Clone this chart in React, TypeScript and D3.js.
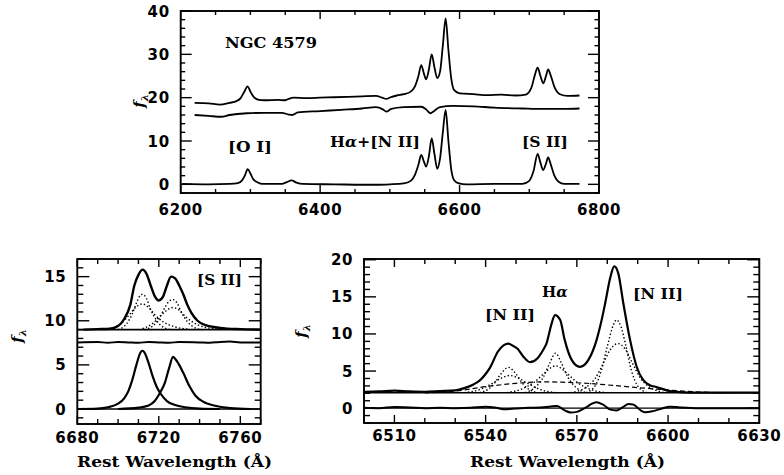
import React from "react";
import * as d3 from "d3";

// ---------------- TOP PANEL DATA (NGC 4579 full spectrum) ----------------
const topUpperWl = [6220, 6240, 6256, 6270, 6280, 6286, 6291, 6296, 6300, 6305, 6312, 6320, 6340, 6350, 6356, 6362, 6380, 6400, 6420, 6440, 6460, 6480, 6489, 6495, 6501, 6510, 6520, 6530, 6536, 6541, 6545, 6549, 6552, 6556, 6560, 6564, 6568, 6572, 6576, 6580, 6584, 6588, 6592, 6600, 6620, 6640, 6660, 6680, 6695, 6703, 6708, 6712, 6716, 6720, 6724, 6727, 6731, 6736, 6744, 6755, 6772];
const topUpperFlux = [18.8, 18.7, 18.4, 18.8, 19.2, 19.9, 21.3, 22.6, 21.4, 20.1, 19.5, 19.4, 19.5, 19.4, 19.8, 20.0, 19.9, 20.0, 20.1, 20.2, 20.3, 20.4, 20.0, 19.7, 20.1, 20.5, 20.8, 21.4, 22.6, 25.0, 27.5, 25.5, 24.2, 26.5, 30.0, 27.0, 24.5, 26.0, 32.0, 38.3, 31.0, 24.5, 21.8, 21.0, 20.8, 20.6, 20.7, 20.5, 20.7, 22.3, 25.2, 26.9, 25.0, 23.3, 25.0, 26.5, 25.0, 22.5, 20.8, 20.4, 20.5];

const topMidWl = [6220, 6240, 6258, 6270, 6295, 6320, 6345, 6355, 6360, 6368, 6400, 6430, 6460, 6480, 6490, 6495, 6502, 6520, 6545, 6552, 6558, 6564, 6572, 6590, 6620, 6650, 6690, 6720, 6750, 6772];
const topMidFlux = [16.0, 15.8, 15.6, 16.0, 16.4, 16.5, 16.5, 16.1, 16.0, 16.6, 16.9, 17.2, 17.5, 17.8, 17.3, 16.8, 17.4, 17.8, 17.9, 17.3, 16.4, 17.0, 17.8, 18.1, 18.0, 17.7, 17.5, 17.4, 17.4, 17.5];

const topLowWl = [6202, 6240, 6270, 6282, 6288, 6292, 6296, 6300, 6304, 6310, 6318, 6345, 6352, 6359, 6366, 6375, 6420, 6480, 6500, 6520, 6530, 6536, 6541, 6545, 6549, 6552, 6556, 6560, 6564, 6568, 6572, 6576, 6580, 6584, 6588, 6592, 6598, 6610, 6650, 6690, 6700, 6706, 6712, 6716, 6720, 6724, 6727, 6731, 6736, 6742, 6750, 6772];
const topLowFlux = [0.1, 0.0, 0.1, 0.3, 0.9, 2.0, 3.5, 2.5, 1.2, 0.5, 0.1, 0.1, 0.5, 0.9, 0.4, 0.1, 0.0, -0.1, 0.0, 0.2, 0.8, 2.2, 4.5, 6.8, 5.2, 4.1, 6.5, 10.6, 7.0, 3.6, 6.0, 12.0, 17.2, 10.0, 3.5, 1.0, 0.3, 0.0, 0.1, 0.1, 0.8, 3.0, 7.0, 5.0, 3.3, 4.8, 6.2, 4.5, 2.0, 0.6, 0.1, 0.1];

const topXMajor = [6200, 6400, 6600, 6800];
const topYMajor = [0, 10, 20, 30, 40];

// ---------------- BOTTOM-LEFT PANEL DATA ([S II] fit) ----------------
const siiTotalWl = [6683, 6690, 6696, 6700, 6703, 6706, 6708, 6710, 6712, 6714, 6716, 6718, 6720, 6722, 6724, 6726, 6728, 6730, 6732, 6734, 6736, 6739, 6743, 6750, 6760, 6770];
const siiTotalFlux = [9.0, 9.05, 9.1, 9.4, 10.2, 11.8, 14.0, 15.2, 15.8, 15.3, 14.0, 12.8, 12.3, 12.7, 14.0, 15.0, 14.8, 14.0, 13.0, 11.8, 10.9, 10.0, 9.5, 9.2, 9.05, 9.0];

const siiA1Wl = [6700, 6704, 6707, 6709, 6711, 6712, 6714, 6716, 6719, 6722, 6726];
const siiA1Flux = [9.0, 9.6, 10.8, 12.0, 12.9, 13.0, 12.5, 11.3, 10.0, 9.3, 9.0];
const siiA2Wl = [6696, 6702, 6706, 6709, 6712, 6715, 6718, 6722, 6728, 6735];
const siiA2Flux = [9.1, 9.8, 10.8, 11.6, 11.9, 11.5, 10.7, 9.9, 9.3, 9.05];
const siiB1Wl = [6713, 6717, 6720, 6723, 6725, 6727, 6729, 6731, 6734, 6737, 6741];
const siiB1Flux = [9.0, 9.4, 10.2, 11.5, 12.2, 12.4, 12.0, 11.0, 9.9, 9.3, 9.0];
const siiB2Wl = [6712, 6717, 6721, 6724, 6727, 6730, 6733, 6737, 6742, 6750];
const siiB2Flux = [9.1, 9.7, 10.6, 11.2, 11.5, 11.2, 10.5, 9.8, 9.3, 9.05];

const siiResidWl = [6680, 6690, 6695, 6700, 6705, 6710, 6715, 6720, 6725, 6730, 6740, 6745, 6750, 6755, 6760, 6770];
const siiResidFlux = [7.55, 7.6, 7.5, 7.6, 7.55, 7.5, 7.6, 7.55, 7.5, 7.6, 7.55, 7.5, 7.6, 7.65, 7.55, 7.55];

const siiLine1Wl = [6680, 6690, 6695, 6700, 6703, 6705, 6707, 6709, 6711, 6712, 6713, 6715, 6717, 6719, 6721, 6724, 6728, 6733, 6740, 6750];
const siiLine1Flux = [0.0, 0.05, 0.2, 0.6, 1.2, 2.0, 3.3, 5.0, 6.4, 6.6, 6.4, 5.2, 3.7, 2.5, 1.7, 0.9, 0.45, 0.2, 0.05, 0.0];
const siiLine2Wl = [6700, 6710, 6715, 6718, 6720, 6721, 6723, 6725, 6727, 6728, 6730, 6732, 6735, 6738, 6742, 6747, 6755, 6765];
const siiLine2Flux = [0.0, 0.15, 0.4, 0.9, 1.6, 2.0, 3.0, 4.6, 5.9, 5.7, 5.0, 4.1, 2.6, 1.5, 0.8, 0.4, 0.1, 0.0];

const blXMajor = [6680, 6720, 6760];
const blYMajor = [0, 5, 10, 15];

// ---------------- BOTTOM-RIGHT PANEL DATA (Halpha + [N II] fit) ----------------
const haTotalWl = [6500, 6505, 6510, 6515, 6520, 6525, 6530, 6533, 6536, 6538, 6540, 6541.5, 6544, 6546, 6547.5, 6549, 6550.5, 6552.5, 6554.6, 6557, 6559, 6560, 6561.7, 6562.8, 6564.5, 6566, 6568.3, 6571, 6573.8, 6576.5, 6578, 6579.3, 6581, 6582.3, 6583.6, 6585.3, 6587.5, 6589.7, 6591.8, 6594, 6596.2, 6600.6, 6607, 6615, 6630];
const haTotalFlux = [2.2, 2.25, 2.35, 2.25, 2.2, 2.3, 2.4, 2.7, 3.2, 3.7, 4.6, 5.5, 7.6, 8.5, 8.7, 8.4, 8.0, 6.9, 6.2, 6.7, 7.9, 8.7, 11.4, 12.55, 11.9, 9.2, 6.5, 5.55, 6.5, 9.2, 11.6, 14.1, 17.6, 19.1, 18.2, 14.1, 9.2, 5.55, 3.8, 3.1, 2.85, 2.3, 2.1, 2.1, 2.1];

const haBroadWl = [6520, 6530, 6540, 6550, 6560, 6565, 6575, 6585, 6595, 6605, 6615, 6620];
const haBroadFlux = [2.05, 2.3, 2.9, 3.35, 3.55, 3.5, 3.3, 2.95, 2.6, 2.3, 2.1, 2.05];

const n1NarrowWl = [6538, 6541, 6543, 6545, 6547.5, 6550, 6552, 6554, 6557];
const n1NarrowFlux = [2.1, 2.6, 3.4, 4.6, 5.5, 4.6, 3.4, 2.6, 2.1];
const n1BroadWl = [6533, 6538, 6542, 6545, 6548, 6551, 6554, 6558, 6563];
const n1BroadFlux = [2.1, 2.5, 3.3, 4.0, 4.4, 4.0, 3.3, 2.5, 2.1];
const hNarrowWl = [6553, 6556, 6559, 6561, 6563, 6565, 6567, 6570, 6573];
const hNarrowFlux = [2.1, 2.7, 4.2, 6.0, 7.4, 6.0, 4.2, 2.7, 2.1];
const hBroadWl = [6547, 6552, 6556, 6559, 6563, 6567, 6570, 6574, 6579];
const hBroadFlux = [2.1, 2.6, 3.5, 4.6, 5.7, 4.6, 3.5, 2.6, 2.1];
const n2NarrowWl = [6573, 6576, 6578, 6580, 6582, 6583, 6584.5, 6586, 6588, 6590, 6593];
const n2NarrowFlux = [2.1, 3.0, 5.0, 8.3, 11.2, 11.9, 11.0, 8.6, 5.0, 3.0, 2.1];
const n2BroadWl = [6568, 6573, 6576, 6579, 6581, 6583.5, 6586, 6588, 6591, 6594, 6599];
const n2BroadFlux = [2.1, 2.8, 4.0, 6.3, 7.9, 8.7, 7.9, 6.3, 4.0, 2.8, 2.1];

const haResidWl = [6500, 6505, 6510, 6515, 6520, 6525, 6530, 6535, 6540, 6543, 6546, 6550, 6554, 6558, 6561, 6563.5, 6566, 6568, 6570, 6573, 6575, 6576.5, 6578.5, 6581, 6583, 6585, 6587, 6588.5, 6591, 6592.5, 6595, 6598, 6600.5, 6604, 6610, 6620, 6630];
const haResidFlux = [0.05, 0.0, 0.15, 0.1, 0.0, 0.05, 0.0, 0.05, 0.2, 0.1, -0.15, -0.05, 0.05, 0.1, 0.2, 0.3, -0.3, -0.6, -0.5, 0.1, 0.6, 0.8, 0.5, -0.2, -0.3, 0.1, 0.55, 0.5, -0.3, -0.55, -0.4, -0.05, 0.2, 0.1, 0.0, 0.0, 0.0];

const brXMajor = [6510, 6540, 6570, 6600, 6630];
const brYMajor = [0, 5, 10, 15, 20];

// --------------------------------------------------------------------------
type Pt = [number, number];
const zip = (a: number[], b: number[]): Pt[] => a.map((v, i) => [v, b[i]]);

const TICK_FONT = "'DejaVu Sans', sans-serif";
const LABEL_FONT = "'DejaVu Serif', serif";

interface PanelCfg {
  id: string;
  px: [number, number];
  py: [number, number]; // [bottom, top]
  xd: [number, number];
  yd: [number, number];
  xMajor: number[];
  xMinorStep: number;
  yMajor: number[];
  yMinorStep: number;
  majLen: number;
  minLen: number;
  xMajLen?: number;
  xMinLen?: number;
  xLabelDy: number;
}

function Frame({ cfg, x, y }: { cfg: PanelCfg; x: d3.ScaleLinear<number, number>; y: d3.ScaleLinear<number, number> }) {
  const [xl, xr] = cfg.px;
  const [yb, yt] = cfg.py;
  const xMinor = d3.range(Math.ceil(cfg.xd[0] / cfg.xMinorStep) * cfg.xMinorStep, cfg.xd[1] + 1e-6, cfg.xMinorStep).filter((v) => !cfg.xMajor.some((m) => Math.abs(m - v) < 1e-6));
  const yMinor = d3.range(Math.ceil(cfg.yd[0] / cfg.yMinorStep) * cfg.yMinorStep, cfg.yd[1] + 1e-6, cfg.yMinorStep).filter((v) => !cfg.yMajor.some((m) => Math.abs(m - v) < 1e-6));
  const xMaj = cfg.xMajLen ?? cfg.majLen;
  const xMin = cfg.xMinLen ?? cfg.minLen;
  const ticks: JSX.Element[] = [];
  const addX = (v: number, len: number, k: string) => {
    const xx = x(v);
    ticks.push(<line key={"xb" + k} x1={xx} x2={xx} y1={yb} y2={yb - len} />);
    ticks.push(<line key={"xt" + k} x1={xx} x2={xx} y1={yt} y2={yt + len} />);
  };
  const addY = (v: number, len: number, k: string) => {
    const yy = y(v);
    ticks.push(<line key={"yl" + k} x1={xl} x2={xl + len} y1={yy} y2={yy} />);
    ticks.push(<line key={"yr" + k} x1={xr} x2={xr - len} y1={yy} y2={yy} />);
  };
  cfg.xMajor.forEach((v, i) => addX(v, xMaj, "M" + i));
  xMinor.forEach((v, i) => addX(v, xMin, "m" + i));
  cfg.yMajor.forEach((v, i) => addY(v, cfg.majLen, "M" + i));
  yMinor.forEach((v, i) => addY(v, cfg.minLen, "m" + i));
  return (
    <g>
      <g stroke="#000" strokeWidth={1.4}>{ticks}</g>
      <rect x={xl} y={yt} width={xr - xl} height={yb - yt} fill="none" stroke="#000" strokeWidth={1.9} />
      <g fontFamily={TICK_FONT} fontWeight="bold" fontSize={15} letterSpacing={0.6}>
        {cfg.xMajor.map((v) => (
          <text key={"xl" + v} x={x(v)} y={yb + cfg.xLabelDy} textAnchor="middle">
            {v}
          </text>
        ))}
        {cfg.yMajor.map((v) => (
          <text key={"yl" + v} x={xl - 11} y={y(v) + 5.5} textAnchor="end">
            {v}
          </text>
        ))}
      </g>
    </g>
  );
}

function FLambda({ x, y }: { x: number; y: number }) {
  return (
    <text transform={`translate(${x},${y}) rotate(-90)`} fontFamily={LABEL_FONT} fontWeight="bold" fontStyle="italic" fontSize={15} textAnchor="middle">
      f
      <tspan fontSize={10} dy={4}>λ</tspan>
    </text>
  );
}

export default function App() {
  // Top panel
  const topCfg: PanelCfg = {
    id: "top",
    px: [180.7, 599],
    py: [193, 11],
    xd: [6200, 6800],
    yd: [-2, 40],
    xMajor: topXMajor,
    xMinorStep: 50,
    yMajor: topYMajor,
    yMinorStep: 2,
    majLen: 11,
    minLen: 4.5,
    xMajLen: 8,
    xMinLen: 4,
    xLabelDy: 22,
  };
  const tx = d3.scaleLinear().domain(topCfg.xd).range(topCfg.px);
  const ty = d3.scaleLinear().domain(topCfg.yd).range(topCfg.py);
  const tLine = d3.line<Pt>().x((d) => tx(d[0])).y((d) => ty(d[1])).curve(d3.curveMonotoneX);

  // Bottom-left panel
  const blCfg: PanelCfg = {
    id: "bl",
    px: [77.3, 260.7],
    py: [424, 259],
    xd: [6680, 6770],
    yd: [-1.7, 17],
    xMajor: blXMajor,
    xMinorStep: 10,
    yMajor: blYMajor,
    yMinorStep: 1,
    majLen: 12,
    minLen: 6,
    xMajLen: 8,
    xMinLen: 5,
    xLabelDy: 19,
  };
  const bx = d3.scaleLinear().domain(blCfg.xd).range(blCfg.px);
  const by = d3.scaleLinear().domain(blCfg.yd).range(blCfg.py);
  const bLine = d3.line<Pt>().x((d) => bx(d[0])).y((d) => by(d[1])).curve(d3.curveMonotoneX);

  // Bottom-right panel
  const brCfg: PanelCfg = {
    id: "br",
    px: [364, 759.3],
    py: [423, 259],
    xd: [6500, 6630],
    yd: [-2, 20.1],
    xMajor: brXMajor,
    xMinorStep: 10,
    yMajor: brYMajor,
    yMinorStep: 1,
    majLen: 12,
    minLen: 6,
    xMajLen: 8,
    xMinLen: 5,
    xLabelDy: 18,
  };
  const rx = d3.scaleLinear().domain(brCfg.xd).range(brCfg.px);
  const ry = d3.scaleLinear().domain(brCfg.yd).range(brCfg.py);
  const rLine = d3.line<Pt>().x((d) => rx(d[0])).y((d) => ry(d[1])).curve(d3.curveMonotoneX);

  const dotted = { fill: "none", stroke: "#000", strokeWidth: 1.4, strokeDasharray: "1.4,2.2" };

  return (
    <svg width={784} height={475} style={{ position: "absolute", left: 0, top: 0, background: "#fff" }}>
      <defs>
        <clipPath id="clipTop">
          <rect x={topCfg.px[0]} y={topCfg.py[1]} width={topCfg.px[1] - topCfg.px[0]} height={topCfg.py[0] - topCfg.py[1]} />
        </clipPath>
        <clipPath id="clipBL">
          <rect x={blCfg.px[0]} y={blCfg.py[1]} width={blCfg.px[1] - blCfg.px[0]} height={blCfg.py[0] - blCfg.py[1]} />
        </clipPath>
        <clipPath id="clipBR">
          <rect x={brCfg.px[0]} y={brCfg.py[1]} width={brCfg.px[1] - brCfg.px[0]} height={brCfg.py[0] - brCfg.py[1]} />
        </clipPath>
      </defs>

      {/* ---------- TOP ---------- */}
      <g clipPath="url(#clipTop)" fill="none" stroke="#000" strokeWidth={1.8} strokeLinejoin="round">
        <path d={tLine(zip(topUpperWl, topUpperFlux)) || ""} />
        <path d={tLine(zip(topMidWl, topMidFlux)) || ""} />
        <path d={tLine(zip(topLowWl, topLowFlux)) || ""} />
      </g>
      <Frame cfg={topCfg} x={tx} y={ty} />
      <g fontFamily={LABEL_FONT} fontWeight="bold" fontSize={15}>
        <text x={225} y={48} textLength={92} lengthAdjust="spacingAndGlyphs">NGC 4579</text>
        <text x={228} y={152} textLength={44} lengthAdjust="spacingAndGlyphs">[O I]</text>
        <text x={330} y={147} textLength={90} lengthAdjust="spacingAndGlyphs">
          H<tspan fontStyle="italic">α</tspan>+[N II]
        </text>
        <text x={522} y={147} textLength={46} lengthAdjust="spacingAndGlyphs">[S II]</text>
      </g>
      <FLambda x={144} y={101} />

      {/* ---------- BOTTOM LEFT ---------- */}
      <g clipPath="url(#clipBL)" fill="none" stroke="#000" strokeLinejoin="round">
        <line x1={bx(6680)} x2={bx(6770)} y1={by(9.0)} y2={by(9.0)} strokeWidth={1.6} />
        <line x1={bx(6680)} x2={bx(6770)} y1={by(0)} y2={by(0)} strokeWidth={1.6} />
        <path d={bLine(zip(siiResidWl, siiResidFlux)) || ""} strokeWidth={2} />
        <path d={bLine(zip(siiA1Wl, siiA1Flux)) || ""} {...dotted} />
        <path d={bLine(zip(siiA2Wl, siiA2Flux)) || ""} {...dotted} />
        <path d={bLine(zip(siiB1Wl, siiB1Flux)) || ""} {...dotted} />
        <path d={bLine(zip(siiB2Wl, siiB2Flux)) || ""} {...dotted} />
        <path d={bLine(zip(siiTotalWl, siiTotalFlux)) || ""} strokeWidth={2.4} />
        <path d={bLine(zip(siiLine1Wl, siiLine1Flux)) || ""} strokeWidth={2.2} />
        <path d={bLine(zip(siiLine2Wl, siiLine2Flux)) || ""} strokeWidth={2.2} />
      </g>
      <Frame cfg={blCfg} x={bx} y={by} />
      <g fontFamily={LABEL_FONT} fontWeight="bold" fontSize={15}>
        <text x={197} y={285} textLength={45} lengthAdjust="spacingAndGlyphs">[S II]</text>
        <text x={77} y={467} textLength={195} lengthAdjust="spacingAndGlyphs">Rest Wavelength (Å)</text>
      </g>
      <FLambda x={22} y={336} />

      {/* ---------- BOTTOM RIGHT ---------- */}
      <g clipPath="url(#clipBR)" fill="none" stroke="#000" strokeLinejoin="round">
        <line x1={rx(6500)} x2={rx(6630)} y1={ry(2.08)} y2={ry(2.08)} strokeWidth={1.6} />
        <line x1={rx(6500)} x2={rx(6630)} y1={ry(0)} y2={ry(0)} strokeWidth={1.3} />
        <path d={rLine(zip(haResidWl, haResidFlux)) || ""} strokeWidth={2} />
        <path d={rLine(zip(haBroadWl, haBroadFlux)) || ""} strokeWidth={1.2} strokeDasharray="5,3" />
        <path d={rLine(zip(n1NarrowWl, n1NarrowFlux)) || ""} {...dotted} />
        <path d={rLine(zip(n1BroadWl, n1BroadFlux)) || ""} {...dotted} />
        <path d={rLine(zip(hNarrowWl, hNarrowFlux)) || ""} {...dotted} />
        <path d={rLine(zip(hBroadWl, hBroadFlux)) || ""} {...dotted} />
        <path d={rLine(zip(n2NarrowWl, n2NarrowFlux)) || ""} {...dotted} />
        <path d={rLine(zip(n2BroadWl, n2BroadFlux)) || ""} {...dotted} />
        <path d={rLine(zip(haTotalWl, haTotalFlux)) || ""} strokeWidth={2.2} />
      </g>
      <Frame cfg={brCfg} x={rx} y={ry} />
      <g fontFamily={LABEL_FONT} fontWeight="bold" fontSize={15}>
        <text x={485} y={320} textLength={50} lengthAdjust="spacingAndGlyphs">[N II]</text>
        <text x={542} y={297}>
          H<tspan fontStyle="italic">α</tspan>
        </text>
        <text x={633} y={299} textLength={50} lengthAdjust="spacingAndGlyphs">[N II]</text>
        <text x={470} y={467} textLength={195} lengthAdjust="spacingAndGlyphs">Rest Wavelength (Å)</text>
      </g>
      <FLambda x={306} y={331} />
    </svg>
  );
}
